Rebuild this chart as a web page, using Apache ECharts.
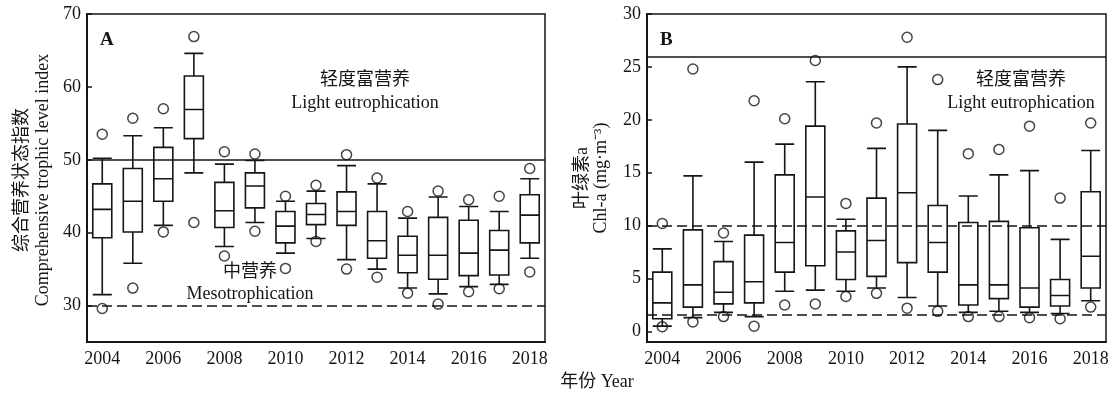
<!DOCTYPE html>
<html>
<head>
<meta charset="utf-8">
<script src="https://cdn.jsdelivr.net/npm/echarts@6/dist/echarts.min.js"></script>
<style>
html,body{margin:0;padding:0;background:#fff;}
#c{width:1112px;height:394px;}
</style>
</head>
<body>
<div id="c"></div>
<script>
// ---- data ----
const years = ['2004','2005','2006','2007','2008','2009','2010','2011','2012','2013','2014','2015','2016','2017','2018'];
const ticksA = [30, 40, 50, 60, 70];
const ticksB = [0, 5, 10, 15, 20, 25, 30];

// [min, Q1, median, Q3, max]
const boxA = [
  [31.5, 39.3, 43.2, 46.7, 50.2],
  [35.8, 40.1, 44.3, 48.8, 53.3],
  [41.0, 44.3, 47.4, 51.7, 54.4],
  [48.2, 52.9, 56.9, 61.5, 64.6],
  [38.1, 40.7, 43.0, 46.9, 49.4],
  [41.4, 43.4, 46.4, 48.2, 49.9],
  [37.2, 38.6, 40.9, 42.9, 44.3],
  [39.2, 41.1, 42.5, 44.0, 45.7],
  [36.3, 41.0, 42.9, 45.6, 49.2],
  [35.0, 36.5, 38.9, 42.9, 46.7],
  [32.4, 34.5, 36.9, 39.5, 42.0],
  [31.6, 33.6, 36.9, 42.1, 44.9],
  [32.6, 34.1, 37.2, 41.7, 43.6],
  [32.9, 34.2, 37.6, 40.3, 42.9],
  [36.5, 38.6, 42.4, 45.2, 47.4]
];
const outHighA = [53.5, 55.7, 57.0, 66.9, 51.1, 50.8, 45.0, 46.5, 50.7, 47.5, 42.9, 45.7, 44.5, 45.0, 48.8];
const outLowA  = [29.6, 32.4, 40.1, 41.4, 36.8, 40.2, 35.1, 38.8, 35.0, 33.9, 31.7, 30.2, 31.9, 32.3, 34.6];

const boxB = [
  [0.5, 1.2, 2.7, 5.6, 7.8],
  [1.3, 2.3, 4.4, 9.6, 14.7],
  [1.8, 2.6, 3.7, 6.6, 8.5],
  [1.4, 2.7, 4.7, 9.1, 16.0],
  [3.8, 5.6, 8.4, 14.8, 17.7],
  [3.9, 6.2, 12.7, 19.4, 23.6],
  [3.8, 4.9, 7.5, 9.5, 10.6],
  [4.1, 5.2, 8.6, 12.6, 17.3],
  [3.2, 6.5, 13.1, 19.6, 25.0],
  [2.4, 5.6, 8.4, 11.9, 19.0],
  [1.8, 2.5, 4.4, 10.3, 12.8],
  [1.9, 3.1, 4.4, 10.4, 14.8],
  [1.8, 2.3, 4.1, 9.8, 15.2],
  [1.7, 2.4, 3.4, 4.9, 8.7],
  [2.9, 4.1, 7.1, 13.2, 17.1]
];
const outHighB = [10.2, 24.8, 9.3, 21.8, 20.1, 25.6, 12.1, 19.7, 27.8, 23.8, 16.8, 17.2, 19.4, 12.6, 19.7];
const outLowB  = [0.45, 0.9, 1.4, 0.5, 2.5, 2.6, 3.3, 3.6, 2.2, 1.9, 1.4, 1.4, 1.3, 1.2, 2.3];

const levelsA = {solid: [50], dashed: [30]};
const levelsB = {solid: [26], dashed: [10, 1.6]};

// ---- chart ----
const INK = '#151515';
const SERIF = '"Liberation Serif", "Noto Sans CJK SC", serif';
const FS = 18;

function outliers(hi, lo) {
  const d = [];
  hi.forEach((v, i) => d.push([i, v]));
  lo.forEach((v, i) => d.push([i, v]));
  return d;
}
function marks(lv) {
  return lv.solid.map(v => ({yAxis: v, lineStyle: {type: 'solid'}}))
    .concat(lv.dashed.map(v => ({yAxis: v, lineStyle: {type: [10, 5]}})));
}
function xAx(i) {
  return {
    type: 'category', gridIndex: i, data: years, boundaryGap: true,
    axisLine: {onZero: false, lineStyle: {color: INK, width: 2}},
    axisTick: {inside: true, length: 6, interval: 1, alignWithLabel: true, lineStyle: {color: INK, width: 1.5}},
    axisLabel: {interval: 1, fontSize: FS, fontFamily: SERIF, color: INK, margin: 8},
    splitLine: {show: false}
  };
}
function yAx(i, min, max, ticks) {
  return {
    type: 'value', gridIndex: i, min: min, max: max,
    axisLine: {show: true, onZero: false, lineStyle: {color: INK, width: 2}},
    axisTick: {show: true, inside: true, length: 5, customValues: ticks, lineStyle: {color: INK, width: 1.5}},
    axisLabel: {customValues: ticks, fontSize: FS, fontFamily: SERIF, color: INK, margin: 6},
    splitLine: {show: false}
  };
}
function boxSeries(i, data, lv) {
  return {
    type: 'boxplot', xAxisIndex: i, yAxisIndex: i, data: data,
    boxWidth: [19, 19],
    itemStyle: {color: '#fff', borderColor: INK, borderWidth: 1.6},
    emphasis: {disabled: true},
    markLine: {
      symbol: 'none', silent: true, label: {show: false},
      lineStyle: {color: INK, width: 1.6},
      data: marks(lv)
    },
    z: 2
  };
}
function outSeries(i, hi, lo) {
  return {
    type: 'scatter', xAxisIndex: i, yAxisIndex: i, data: outliers(hi, lo),
    symbol: 'circle', symbolSize: 10,
    itemStyle: {color: 'rgba(0,0,0,0)', borderColor: INK, borderWidth: 1.5},
    z: 3
  };
}
function txt(x, y, s, opt) {
  opt = opt || {};
  return {
    type: 'text', x: x, y: y, rotation: opt.rot || 0, silent: true,
    style: {
      text: s, fill: INK, align: opt.align || 'center', verticalAlign: opt.va || 'middle',
      fontSize: opt.fs || FS, fontFamily: SERIF, fontWeight: opt.bold ? 'bold' : 'normal'
    }
  };
}

const chart = echarts.init(document.getElementById('c'), null, {renderer: 'canvas'});
chart.setOption({
  animation: false,
  backgroundColor: '#fff',
  grid: [
    {left: 87, top: 14, width: 458, height: 328, show: true, borderColor: INK, borderWidth: 1.5, backgroundColor: 'transparent'},
    {left: 647, top: 14, width: 459, height: 328, show: true, borderColor: INK, borderWidth: 1.5, backgroundColor: 'transparent'}
  ],
  xAxis: [xAx(0), xAx(1)],
  yAxis: [yAx(0, 25, 70, ticksA), yAx(1, -1, 30, ticksB)],
  series: [
    boxSeries(0, boxA, levelsA), outSeries(0, outHighA, outLowA),
    boxSeries(1, boxB, levelsB), outSeries(1, outHighB, outLowB)
  ],
  graphic: [
    txt(100, 40, 'A', {align: 'left', bold: true, fs: 19}),
    txt(660, 40, 'B', {align: 'left', bold: true, fs: 19}),
    txt(365, 80, '轻度富营养'),
    txt(365, 103, 'Light eutrophication'),
    txt(250, 272, '中营养'),
    txt(250, 294, 'Mesotrophication'),
    txt(1021, 80, '轻度富营养'),
    txt(1021, 103, 'Light eutrophication'),
    txt(22, 180, '综合营养状态指数', {rot: Math.PI / 2}),
    txt(43, 180, 'Comprehensive trophic level index', {rot: Math.PI / 2}),
    txt(582, 178, '叶绿素a', {rot: Math.PI / 2}),
    txt(601, 178, 'Chl-a (mg·m⁻³)', {rot: Math.PI / 2}),
    txt(597, 382, '年份 Year')
  ]
});
</script>
</body>
</html>
